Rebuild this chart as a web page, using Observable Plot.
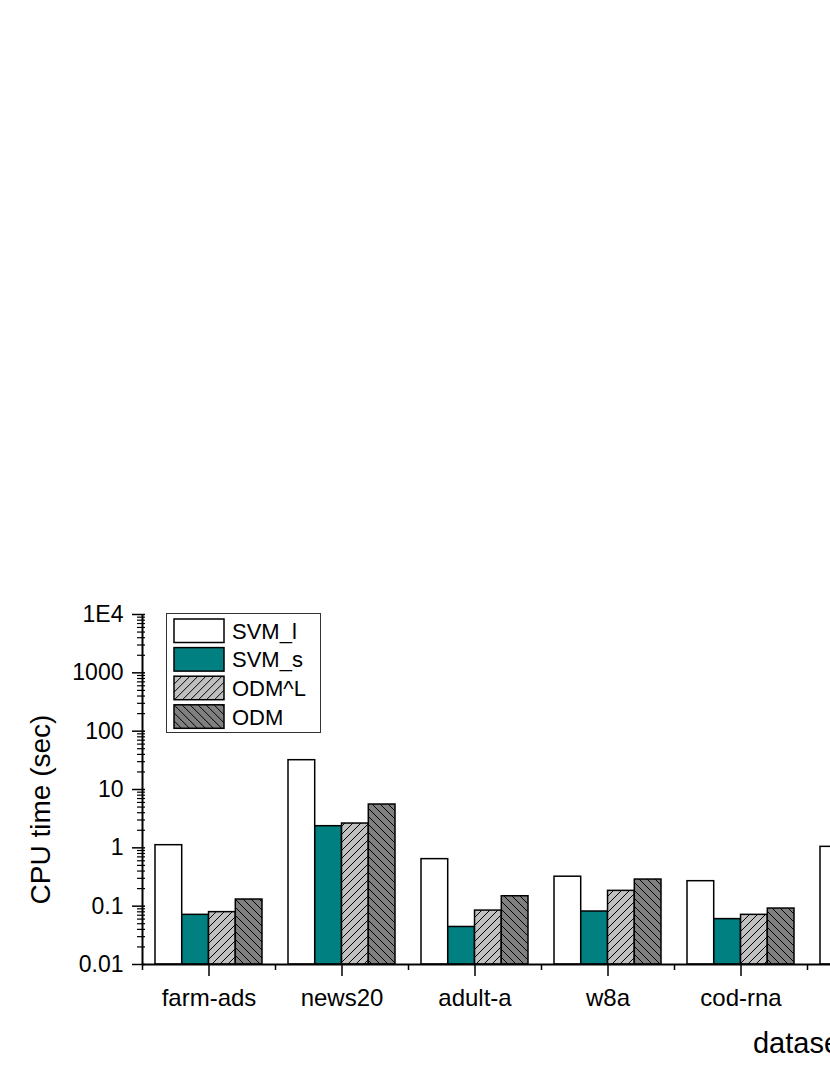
<!DOCTYPE html>
<html><head><meta charset="utf-8">
<script src="https://cdn.jsdelivr.net/npm/d3@7"></script>
<script src="https://cdn.jsdelivr.net/npm/@observablehq/plot@0.6"></script>
<style>
html,body{margin:0;padding:0;background:#fff;overflow:hidden;width:830px;height:1075px}
#wrap{position:relative;width:830px;height:1075px;overflow:hidden}
#wrap svg.chart{position:absolute;left:0;top:0;max-width:none}
#legend{position:absolute;left:166px;top:613px}
</style></head><body>
<svg width="0" height="0" style="position:absolute">
<defs>
<pattern id="hatchL" patternUnits="userSpaceOnUse" width="8" height="8">
<rect width="8" height="8" fill="#c0c0c0"/>
<path d="M-2,2 L2,-2 M0,8 L8,0 M6,10 L10,6" stroke="#000" stroke-width="1"/>
</pattern>
<pattern id="hatchD" patternUnits="userSpaceOnUse" width="8" height="8">
<rect width="8" height="8" fill="#808080"/>
<path d="M-2,6 L2,10 M0,0 L8,8 M6,-2 L10,2" stroke="#000" stroke-width="1"/>
</pattern>
</defs></svg>
<div id="wrap"></div>
<script>
// ---- data ----
const datasets = ["farm-ads", "news20", "adult-a", "w8a", "cod-rna", "real-sim"];
const seriesNames = ["SVM_l", "SVM_s", "ODM^L", "ODM"];
const svmL = [1.11, 31.8, 0.64, 0.32, 0.268, 1.04];
const svmS = [0.071, 2.35, 0.044, 0.081, 0.060, null];
const odmL = [0.079, 2.61, 0.084, 0.183, 0.071, null];
const odm  = [0.13, 5.53, 0.148, 0.286, 0.091, null];
const yTickValues = [0.01, 0.1, 1, 10, 100, 1000, 10000];
const yTickLabels = ["0.01", "0.1", "1", "10", "100", "1000", "1E4"];
const seriesFills = ["#ffffff", "#008080", "url(#hatchL)", "url(#hatchD)"];

// ---- build table ----
const seriesValues = [svmL, svmS, odmL, odm];
const rows = [];
seriesNames.forEach((s, k) => datasets.forEach((d, i) => {
  const v = seriesValues[k][i];
  if (v != null) rows.push({dataset: d, series: s, value: v});
}));

// minor log ticks
const minorTicks = [];
for (let e = -2; e < 4; e++) for (let m = 2; m <= 9; m++) minorTicks.push(m * Math.pow(10, e));

const step = 133;
const pInner = 0.195;
const bw = step * (1 - pInner);
const sub = bw / 4;
const font = "'Liberation Sans', Arial, Helvetica, sans-serif";

const chart = Plot.plot({
  width: 1460, height: 1075,
  marginTop: 614, marginBottom: 111, marginLeft: 142, marginRight: 2,
  style: {fontFamily: font, background: "#fff", color: "#000", overflow: "visible"},
  x: {type: "band", domain: datasets, range: [142, 142 + step * datasets.length], paddingInner: pInner, paddingOuter: pInner / 2, align: 0.5, label: null},
  y: {type: "log", domain: [0.01, 10000], label: null},
  marks: [
    ...seriesNames.map((s, k) => Plot.barY(rows.filter(r => r.series === s), {
      x: "dataset", y1: 0.01, y2: "value",
      fill: seriesFills[k], stroke: "#000", strokeWidth: 1.5,
      insetLeft: k * sub, insetRight: (3 - k) * sub
    })),
    Plot.ruleY([0.01], {stroke: "#000", strokeWidth: 2}),
    Plot.ruleX([datasets[0]], {dx: -step / 2, stroke: "#000", strokeWidth: 2}),
    Plot.axisY({ticks: yTickValues, tickFormat: d => yTickLabels[yTickValues.indexOf(d)], tickSize: 13, tickPadding: 9, dx: 3, fontSize: 23, strokeWidth: 1.5, label: null}),
    Plot.axisY({ticks: minorTicks, tickFormat: () => "", tickSize: 8, dx: 3, strokeWidth: 1.2, label: null}),
    Plot.axisX({tickSize: 12, tickPadding: 12, fontSize: 24, strokeWidth: 1.5, label: null}),
    Plot.axisX({ticks: datasets, tickSize: 6, dx: -step / 2, tickFormat: () => "", strokeWidth: 1.5, label: null}),
    Plot.text(["CPU time (sec)"], {text: d => d, frameAnchor: "left", rotate: -90, dx: -101, dy: 20, fontSize: 28, textAnchor: "middle", fill: "#000"}),
    Plot.text(["dataset"], {text: d => d, frameAnchor: "bottom", dy: 68, lineAnchor: "top", fontSize: 29, fill: "#000"})
  ]
});
chart.classList.add("chart");
chart.style.maxWidth = "none";
document.getElementById("wrap").appendChild(chart);

// ---- legend ----
const lw = 154, lh = 119, rowH = 28.6;
const leg = d3.select("#wrap").append("svg").attr("id", "legend")
  .attr("width", lw + 2).attr("height", lh + 2)
  .style("font-family", font);
leg.append("rect").attr("x", 0.5).attr("y", 0.5).attr("width", lw).attr("height", lh)
  .attr("fill", "#fff").attr("stroke", "#333").attr("stroke-width", 1);
const items = leg.selectAll("g.item").data(seriesNames).join("g")
  .attr("transform", (d, i) => `translate(8, ${6 + i * rowH})`);
items.append("rect").attr("width", 50).attr("height", 23.5)
  .attr("fill", (d, i) => seriesFills[i]).attr("stroke", "#000").attr("stroke-width", 1.5);
items.append("text").attr("x", 58).attr("y", 12).attr("dy", "0.35em")
  .attr("font-size", 22).attr("fill", "#000").text(d => d);
</script>
</body></html>
